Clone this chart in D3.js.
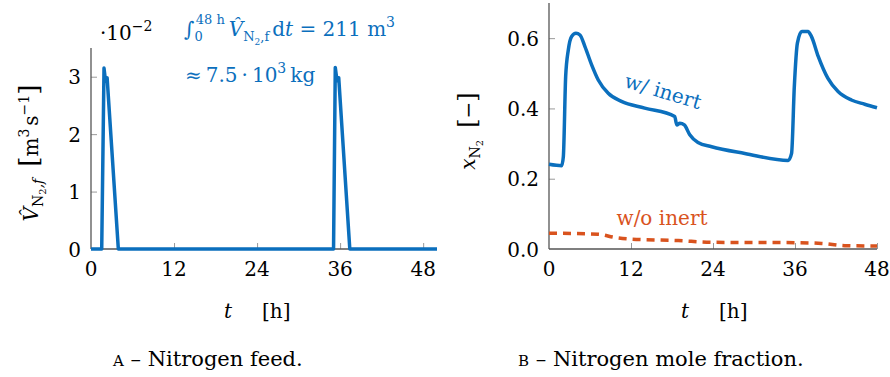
<!DOCTYPE html>
<html>
<head>
<meta charset="utf-8">
<script src="https://cdn.jsdelivr.net/npm/d3@7"></script>
<style>
  body { margin: 0; background: #fff; }
</style>
</head>
<body>
<div id="chart"></div>
<script>
// données
const tFeed = [0, 1.55, 1.88, 2.1, 2.33, 3.95, 35.05, 35.3, 35.55, 35.8, 37.4, 50];
const vFeed = [0, 0, 3.15, 2.92, 2.98, 0, 0, 3.16, 2.93, 2.98, 0, 0]; // x 1e-2 m3/s

const tFrac = [0, 1.85, 2.1, 2.44, 2.83, 3.31, 3.95, 4.53, 5.26, 6.24, 7.21, 8.67, 10.6, 14.0, 18.4, 18.7, 19.15, 19.8, 20.6, 21.8, 23.8, 28.65, 35.0, 35.5, 35.9, 36.35, 37.0, 37.9, 38.4, 39.4, 40.8, 42.3, 44.25, 46.2, 48];
const xInert = [0.241, 0.237, 0.263, 0.491, 0.567, 0.605, 0.614, 0.609, 0.576, 0.524, 0.481, 0.443, 0.420, 0.401, 0.377, 0.353, 0.358, 0.353, 0.325, 0.303, 0.291, 0.272, 0.252, 0.272, 0.462, 0.586, 0.619, 0.619, 0.605, 0.548, 0.486, 0.448, 0.424, 0.412, 0.402];

const tNo = [0, 7.2, 9.6, 12.1, 18.9, 23.8, 36.0, 39.9, 43.3, 48];
const xNoInert = [0.045, 0.042, 0.033, 0.028, 0.024, 0.019, 0.018, 0.016, 0.0095, 0.0085];

const xTicks = [0, 12, 24, 36, 48];
const feedTicks = [0, 1, 2, 3];
const fracTicks = [0, 0.2, 0.4, 0.6];

const blue = "#0b6fbd";
const orange = "#d9531e";

const svg = d3.select("#chart").append("svg")
    .attr("width", 890).attr("height", 377)
    .style("font-family", "DejaVu Serif");

// axes à la pgfplots : graduations vers l'intérieur
function drawAxes(g, x, y, yTicks, yFmt, xEnd) {
    const [x0] = x.range();
    const [y0, y1] = y.range();
    g.append("g").attr("transform", `translate(0,${y0})`)
        .call(d3.axisTop(x).tickValues(xTicks.filter(d => d > 0)).tickSize(6).tickFormat(""))
        .call(a => a.select(".domain").remove())
        .selectAll("line").attr("stroke", "#999");
    g.append("g").attr("transform", `translate(${x0},0)`)
        .call(d3.axisRight(y).tickValues(yTicks.filter(d => d > 0)).tickSize(6).tickFormat(""))
        .call(a => a.select(".domain").remove())
        .selectAll("line").attr("stroke", "#999");
    g.append("line").attr("x1", x0).attr("x2", xEnd).attr("y1", y0).attr("y2", y0)
        .attr("stroke", "#555").attr("stroke-width", 1.3);
    g.append("line").attr("x1", x0).attr("x2", x0).attr("y1", y0).attr("y2", y1)
        .attr("stroke", "#555").attr("stroke-width", 1.3);
    g.selectAll(".xl").data(xTicks).join("text")
        .attr("x", d => x(d)).attr("y", y0 + 27)
        .attr("text-anchor", "middle").attr("font-size", 20).text(d => d);
    g.selectAll(".yl").data(yTicks).join("text")
        .attr("x", x0 - 10).attr("y", d => y(d) + 7.5)
        .attr("text-anchor", "end").attr("font-size", 20).text(yFmt);
}

// ---- graphe A
const gA = svg.append("g");
const xA = d3.scaleLinear().domain([0, 50]).range([91, 437]);
const yA = d3.scaleLinear().domain([0, 3.5]).range([249, 48]);
drawAxes(gA, xA, yA, feedTicks, d => d, 437);

gA.append("path")
    .datum(tFeed.map((t, i) => [t, vFeed[i]]))
    .attr("fill", "none").attr("stroke", blue).attr("stroke-width", 3.5)
    .attr("stroke-linejoin", "round")
    .attr("d", d3.line().x(d => xA(d[0])).y(d => yA(d[1])));

const expo = gA.append("text").attr("x", 100).attr("y", 40).attr("font-size", 20);
expo.append("tspan").text("·10");
expo.append("tspan").attr("font-size", 14).attr("dy", -9).text("−2");

const ann1 = gA.append("text").attr("x", 184).attr("y", 36).attr("font-size", 20).attr("fill", blue);
ann1.append("tspan").attr("font-style", "italic").text("∫");
ann1.append("tspan").attr("font-size", 13).attr("dy", 5).text("0");
ann1.append("tspan").attr("font-size", 13).attr("dx", -7).attr("dy", -17).text("48 h");
ann1.append("tspan").attr("font-style", "italic").attr("dx", 4).attr("dy", 12).text("V̂");
ann1.append("tspan").attr("font-size", 13).attr("dy", 5).text("N");
ann1.append("tspan").attr("font-size", 9).attr("dy", 4).text("2");
ann1.append("tspan").attr("font-size", 13).attr("dy", -4).text(",f");
ann1.append("tspan").attr("dy", -5).attr("dx", 3).text("d");
ann1.append("tspan").attr("font-style", "italic").text("t");
ann1.append("tspan").text(" = 211 m");
ann1.append("tspan").attr("font-size", 14).attr("dy", -9).text("3");

const ann2 = gA.append("text").attr("x", 185).attr("y", 82).attr("font-size", 20).attr("fill", blue);
ann2.append("tspan").text("≈\u20097.5\u2009·\u200910");
ann2.append("tspan").attr("font-size", 14).attr("dy", -9).text("3");
ann2.append("tspan").attr("dy", 9).text("\u2009kg");

const ylA = gA.append("text").attr("transform", "translate(38,153) rotate(-90)")
    .attr("text-anchor", "middle").attr("font-size", 20);
ylA.append("tspan").attr("font-style", "italic").text("V̂");
ylA.append("tspan").attr("font-size", 14).attr("dy", 5).text("N");
ylA.append("tspan").attr("font-size", 10).attr("dy", 3).text("2");
ylA.append("tspan").attr("font-size", 14).attr("font-style", "italic").attr("dy", -3).text(",f");
ylA.append("tspan").attr("dy", -5).attr("dx", 12).attr("font-size", 26).text("[");
ylA.append("tspan").text("m");
ylA.append("tspan").attr("font-size", 14).attr("dy", -9).text("3");
ylA.append("tspan").attr("dy", 9).attr("dx", 3).text("s");
ylA.append("tspan").attr("font-size", 14).attr("dy", -9).text("−1");
ylA.append("tspan").attr("dy", 9).attr("font-size", 26).text("]");

const xlA = gA.append("text").attr("x", 224).attr("y", 318).attr("font-size", 20);
xlA.append("tspan").attr("font-style", "italic").text("t");
xlA.append("tspan").attr("dx", 30).text("[h]");

const capA = gA.append("text").attr("x", 113).attr("y", 366).attr("font-size", 21);
capA.append("tspan").attr("font-size", 15).text("A");
capA.append("tspan").text(" – Nitrogen feed.");

// ---- graphe B
const gB = svg.append("g");
const xB = d3.scaleLinear().domain([0, 48]).range([549, 877]);
const yB = d3.scaleLinear().domain([0, 0.7]).range([249, 3]);
drawAxes(gB, xB, yB, fracTicks, d => d.toFixed(1), 877);

gB.append("path")
    .datum(tFrac.map((t, i) => [t, xInert[i]]))
    .attr("fill", "none").attr("stroke", blue).attr("stroke-width", 3.5)
    .attr("d", d3.line().curve(d3.curveMonotoneX).x(d => xB(d[0])).y(d => yB(d[1])));

gB.append("path")
    .datum(tNo.map((t, i) => [t, xNoInert[i]]))
    .attr("fill", "none").attr("stroke", orange).attr("stroke-width", 3.5)
    .attr("stroke-dasharray", "8,6")
    .attr("d", d3.line().curve(d3.curveMonotoneX).x(d => xB(d[0])).y(d => yB(d[1])));

gB.append("text").attr("transform", "translate(661,98) rotate(16.5)")
    .attr("text-anchor", "middle").attr("font-size", 20).attr("fill", blue).text("w/ inert");
gB.append("text").attr("x", 662).attr("y", 225)
    .attr("text-anchor", "middle").attr("font-size", 20).attr("fill", orange).text("w/o inert");

const ylB = gB.append("text").attr("transform", "translate(475,131) rotate(-90)")
    .attr("text-anchor", "middle").attr("font-size", 20);
ylB.append("tspan").attr("font-style", "italic").text("x");
ylB.append("tspan").attr("font-size", 14).attr("dy", 5).text("N");
ylB.append("tspan").attr("font-size", 10).attr("dy", 3).text("2");
ylB.append("tspan").attr("dy", -8).attr("dx", 12).attr("font-size", 24).text("[");
ylB.append("tspan").text("−");
ylB.append("tspan").attr("font-size", 24).text("]");

const xlB = gB.append("text").attr("x", 681).attr("y", 318).attr("font-size", 20);
xlB.append("tspan").attr("font-style", "italic").text("t");
xlB.append("tspan").attr("dx", 30).text("[h]");

const capB = gB.append("text").attr("x", 518).attr("y", 366).attr("font-size", 21);
capB.append("tspan").attr("font-size", 15).text("B");
capB.append("tspan").text(" – Nitrogen mole fraction.");
</script>
</body>
</html>
